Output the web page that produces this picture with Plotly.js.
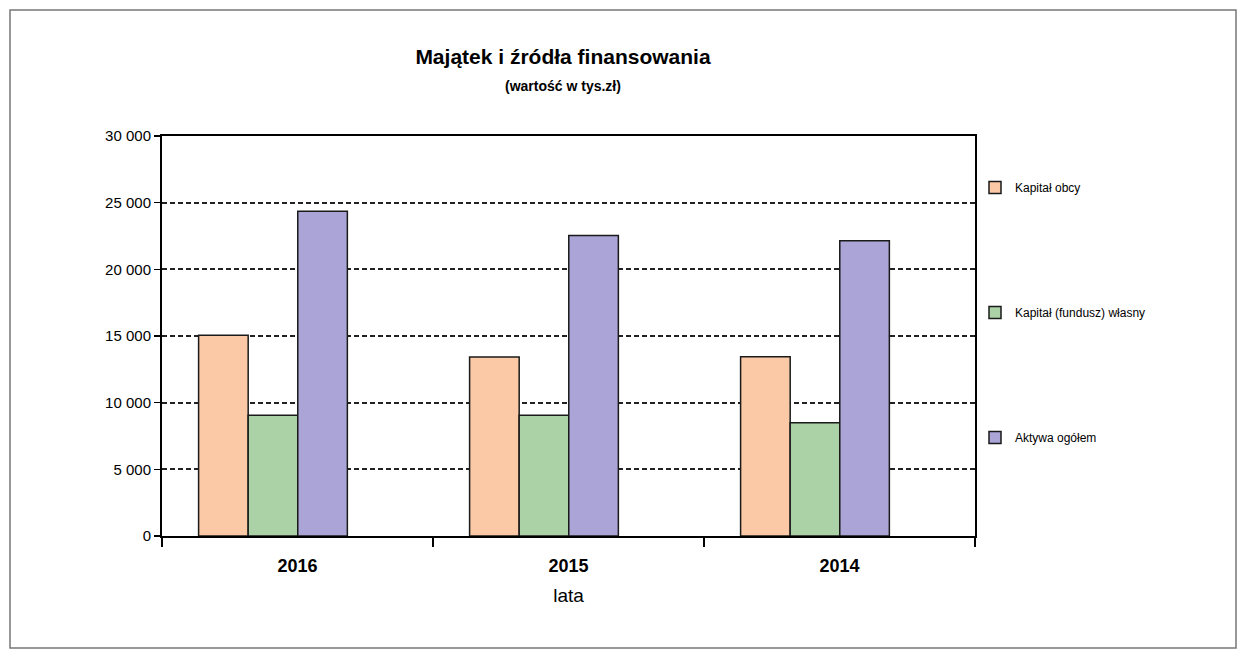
<!DOCTYPE html>
<html>
<head>
<meta charset="utf-8">
<script src="https://cdn.plot.ly/plotly-3.0.1.min.js"></script>
<style>
html,body{margin:0;padding:0;background:#fff;}
#chart{width:1241px;height:658px;}
</style>
</head>
<body>
<div id="chart"></div>
<script>
const years = ["2016", "2015", "2014"];
const kapitalObcy = [15050, 13420, 13450];
const kapitalWlasny = [9050, 9050, 8500];
const aktywaOgolem = [24350, 22530, 22150];
const seriesNames = ["Kapitał obcy", "Kapitał (fundusz) własny", "Aktywa ogółem"];
const yTickVals = [0, 5000, 10000, 15000, 20000, 25000, 30000];
const yTickText = ["0", "5 000", "10 000", "15 000", "20 000", "25 000", "30 000"];

const colors = ["#FBC9A6", "#AAD2A6", "#AAA5D6"];
const barW = 0.183;
const offsets = [-0.365, -0.182, 0.001];
const seriesVals = [kapitalObcy, kapitalWlasny, aktywaOgolem];

const traces = seriesVals.map((vals, i) => ({
  type: "bar",
  x: years,
  y: vals,
  name: seriesNames[i],
  legendgroup: "g" + i,
  width: barW,
  offset: offsets[i],
  marker: {color: colors[i], line: {color: "#1a1a1a", width: 1.5}},
  hoverinfo: "x+y+name"
}));

const layout = {
  width: 1241,
  height: 658,
  margin: {l: 162, r: 266, t: 136, b: 122},
  paper_bgcolor: "#fff",
  plot_bgcolor: "#fff",
  font: {family: "Liberation Sans, Arial, sans-serif", color: "#000"},
  title: {
    text: "<b>Majątek i źródła finansowania</b>",
    font: {size: 21, family: "Liberation Sans, Arial, sans-serif", color: "#000"},
    xref: "container", yref: "container",
    x: 563/1241, xanchor: "center",
    y: 1 - 57/658, yanchor: "middle"
  },
  annotations: [{
    text: "<b>(wartość w tys.zł)</b>",
    xref: "paper", yref: "paper",
    x: (563-162)/813, y: (536-86)/400,
    xanchor: "center", yanchor: "middle",
    showarrow: false,
    font: {size: 14, color: "#000"}
  }],
  showlegend: true,
  legend: {
    x: (975-162)/813, xanchor: "left",
    y: (536-173)/400, yanchor: "top",
    tracegroupgap: 106,
    itemwidth: 30,
    font: {size: 12, color: "#000"},
    bgcolor: "rgba(0,0,0,0)"
  },
  xaxis: {
    type: "category",
    range: [-0.5, 2.5],
    showline: true, linecolor: "#000", linewidth: 2, mirror: true,
    ticks: "outside", tickson: "boundaries", ticklen: 9, tickcolor: "#000", tickwidth: 1.5,
    ticklabelstandoff: 12,
    tickfont: {size: 18, color: "#000", family: "Liberation Sans, Arial, sans-serif", weight: "bold"},
    title: {text: "lata", font: {size: 19, color: "#000"}, standoff: 14},
    showgrid: false, zeroline: false
  },
  yaxis: {
    range: [0, 30000],
    tickvals: yTickVals,
    ticktext: yTickText,
    tickfont: {size: 15, color: "#000"},
    showline: true, linecolor: "#000", linewidth: 2, mirror: true,
    ticks: "outside", ticklen: 6, tickcolor: "#000", tickwidth: 1.5,
    showgrid: true, gridcolor: "#222", gridwidth: 1.8, griddash: "5px,3px",
    zeroline: false
  },
  shapes: [{
    type: "rect", xref: "paper", yref: "paper",
    x0: (10-162)/813, x1: (1236-162)/813,
    y0: (536-648)/400, y1: (536-10)/400,
    line: {color: "#777", width: 1.5},
    fillcolor: "rgba(0,0,0,0)",
    layer: "below"
  }]
};

Plotly.newPlot("chart", traces, layout, {displayModeBar: false, staticPlot: true});
</script>
</body>
</html>
